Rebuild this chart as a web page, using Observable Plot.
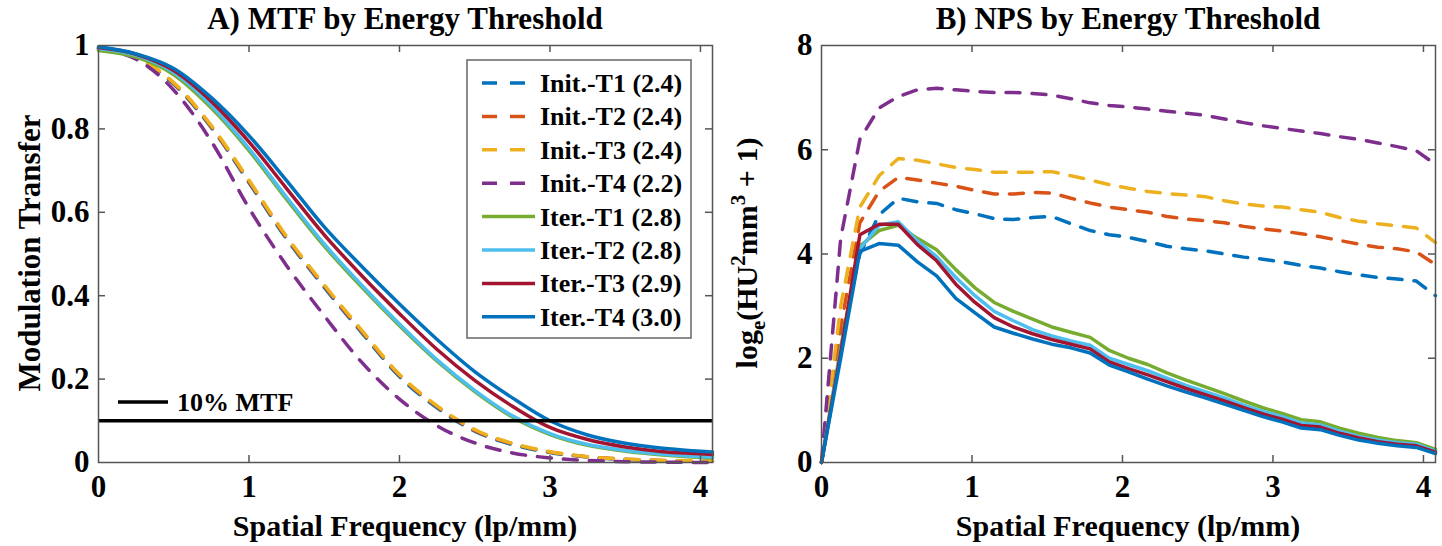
<!DOCTYPE html>
<html><head><meta charset="utf-8">
<script src="https://cdn.jsdelivr.net/npm/d3@7"></script>
<script src="https://cdn.jsdelivr.net/npm/@observablehq/plot@0.6"></script>
<style>
body{margin:0;background:#fff;}
#wrap{display:flex;width:1442px;height:546px;overflow:hidden;}
svg{display:block}
svg text{font-family:"Liberation Serif","Tinos","Times New Roman","DejaVu Serif",serif !important;font-weight:bold;}
</style></head><body><div id="wrap"></div>
<script>
// ---------- data ----------
const seriesNames = ["Init.-T1 (2.4)","Init.-T2 (2.4)","Init.-T3 (2.4)","Init.-T4 (2.2)",
                     "Iter.-T1 (2.8)","Iter.-T2 (2.8)","Iter.-T3 (2.9)","Iter.-T4 (3.0)"];
const xTicks = [0,1,2,3,4];
const mtfYTicks = [0,0.2,0.4,0.6,0.8,1];
const npsYTicks = [0,2,4,6,8];
const mtfThreshold = [0.1];
const mtfThresholdLabel = "10% MTF";
const titles = ["A) MTF by Energy Threshold","B) NPS by Energy Threshold"];
const xLabel = "Spatial Frequency (lp/mm)";
const mtfYLabel = "Modulation Transfer";

const mtfFreq = [0,0.25,0.5,0.75,1,1.25,1.5,1.75,2,2.25,2.5,2.75,3,3.25,3.5,3.75,4,4.08];
const mtfInitT1 = [0.992,0.970,0.907,0.803,0.671,0.536,0.420,0.311,0.206,0.131,0.075,0.043,0.024,0.013,0.007,0.004,0.003,0.003];
const mtfInitT2 = [0.993,0.971,0.909,0.805,0.674,0.539,0.423,0.314,0.209,0.134,0.077,0.045,0.025,0.014,0.008,0.005,0.003,0.003];
const mtfInitT3 = [0.993,0.972,0.911,0.808,0.677,0.542,0.426,0.317,0.211,0.136,0.079,0.046,0.026,0.014,0.008,0.005,0.004,0.003];
const mtfInitT4 = [0.990,0.967,0.893,0.770,0.610,0.472,0.352,0.240,0.152,0.088,0.047,0.023,0.011,0.005,0.002,0.001,0.000,0.000];
const mtfIterT1 = [0.988,0.972,0.930,0.850,0.748,0.631,0.519,0.420,0.328,0.243,0.170,0.109,0.067,0.041,0.027,0.018,0.012,0.011];
const mtfIterT2 = [0.993,0.977,0.935,0.856,0.753,0.636,0.524,0.425,0.332,0.246,0.173,0.112,0.069,0.043,0.029,0.020,0.014,0.013];
const mtfIterT3 = [0.995,0.979,0.940,0.866,0.769,0.657,0.546,0.448,0.357,0.271,0.197,0.135,0.084,0.055,0.037,0.026,0.021,0.019];
const mtfIterT4 = [0.997,0.980,0.945,0.875,0.784,0.676,0.565,0.470,0.380,0.295,0.218,0.155,0.100,0.066,0.046,0.034,0.027,0.025];

const npsFreq = [0,0.1275,0.255,0.3825,0.51,0.6375,0.765,0.8925,1.02,1.1475,1.275,1.4025,1.53,1.6575,1.785,1.9125,2.04,2.1675,2.295,2.4225,2.55,2.6775,2.805,2.9325,3.06,3.1875,3.315,3.4425,3.57,3.6975,3.825,3.9525,4.08];
const npsInitT1 = [0,2.3,4.0,4.75,5.07,5.0,4.97,4.85,4.77,4.68,4.66,4.7,4.72,4.58,4.45,4.37,4.32,4.24,4.15,4.1,4.06,4.0,3.94,3.9,3.85,3.78,3.73,3.66,3.6,3.55,3.52,3.48,3.2];
const npsInitT2 = [0,2.6,4.6,5.2,5.47,5.42,5.36,5.3,5.22,5.15,5.15,5.18,5.17,5.07,4.98,4.9,4.85,4.8,4.72,4.67,4.64,4.6,4.53,4.48,4.44,4.39,4.33,4.26,4.19,4.13,4.1,4.04,3.8];
const npsInitT3 = [0,3.0,4.9,5.5,5.83,5.8,5.73,5.66,5.62,5.57,5.57,5.57,5.58,5.5,5.42,5.33,5.26,5.2,5.16,5.13,5.1,5.02,4.96,4.92,4.9,4.85,4.8,4.7,4.63,4.58,4.54,4.5,4.22];
const npsInitT4 = [0,4.3,6.2,6.8,7.02,7.15,7.18,7.15,7.12,7.1,7.1,7.08,7.05,6.98,6.9,6.85,6.82,6.78,6.74,6.7,6.66,6.59,6.52,6.46,6.41,6.36,6.31,6.25,6.2,6.13,6.06,5.98,5.72];
const npsIterT1 = [0,2.2,4.15,4.45,4.55,4.3,4.08,3.7,3.35,3.07,2.9,2.75,2.6,2.5,2.4,2.15,2.0,1.88,1.72,1.58,1.45,1.32,1.18,1.05,0.94,0.82,0.78,0.66,0.56,0.48,0.42,0.38,0.25];
const npsIterT2 = [0,2.15,4.1,4.55,4.62,4.25,3.95,3.55,3.2,2.9,2.72,2.55,2.43,2.33,2.25,2.0,1.88,1.76,1.62,1.48,1.36,1.24,1.1,0.98,0.88,0.76,0.72,0.6,0.5,0.43,0.38,0.35,0.22];
const npsIterT3 = [0,2.1,4.37,4.57,4.57,4.18,3.87,3.42,3.07,2.78,2.6,2.47,2.36,2.27,2.18,1.93,1.8,1.68,1.55,1.42,1.3,1.18,1.05,0.93,0.83,0.71,0.68,0.56,0.47,0.4,0.35,0.32,0.2];
const npsIterT4 = [0,2.0,4.05,4.2,4.17,3.85,3.58,3.15,2.87,2.6,2.48,2.37,2.27,2.2,2.1,1.87,1.74,1.6,1.47,1.35,1.24,1.12,1.0,0.88,0.78,0.66,0.63,0.52,0.43,0.37,0.32,0.29,0.17];

const mtfSeries = [mtfInitT1,mtfInitT2,mtfInitT3,mtfInitT4,mtfIterT1,mtfIterT2,mtfIterT3,mtfIterT4];
const npsSeries = [npsInitT1,npsInitT2,npsInitT3,npsInitT4,npsIterT1,npsIterT2,npsIterT3,npsIterT4];

// ---------- styles ----------
const seriesColors = ["#0072BD","#D95319","#EDB120","#7E2F8E","#77AC30","#4DBEEE","#A2142F","#0072BD"];
const seriesDashed = [true,true,true,true,false,false,false,false];
const FONT = "Liberation Serif, Tinos, Times New Roman, DejaVu Serif, serif";
const FRAME = "#555";
const W = 721, H = 546, MT = 45, MB = 84;
const DASH = "14,12";

function rowsOf(freq, series){
  return series.map((vals,i)=>vals.map((v,j)=>({f:freq[j], v, s:seriesNames[i]})));
}

function panel({freq, series, yDomain, yTicks, marginLeft, marginRight, curve, extra=[]}){
  const xDomain = [0, freq[freq.length-1]];
  const plotH = H - MT - MB, plotW = W - marginLeft - marginRight;
  const tY = (yDomain[1]-yDomain[0]) * 7/plotH;
  const tX = (xDomain[1]-xDomain[0]) * 7/plotW;
  const rows = rowsOf(freq, series);
  const innerX = xTicks.filter(d=>d>xDomain[0]);
  const innerY = yTicks.filter(d=>d>yDomain[0] && d<yDomain[1]);
  return Plot.plot({
    width: W, height: H, marginTop: MT, marginBottom: MB, marginLeft, marginRight,
    style: {fontFamily: FONT, fontWeight: "bold", background: "white", color: "black"},
    x: {domain: xDomain},
    y: {domain: yDomain},
    marks: [
      ...rows.map((r,i)=>Plot.line(r, {x:"f", y:"v", stroke: seriesColors[i], strokeWidth: 3.5,
          strokeDasharray: seriesDashed[i] ? DASH : null, curve})),
      ...extra,
      Plot.ruleX(innerX, {y1: yDomain[0], y2: yDomain[0]+tY, stroke: FRAME, strokeWidth: 1.5}),
      Plot.ruleX(innerX, {y1: yDomain[1], y2: yDomain[1]-tY, stroke: FRAME, strokeWidth: 1.5}),
      Plot.ruleY(innerY, {x1: xDomain[0], x2: xDomain[0]+tX, stroke: FRAME, strokeWidth: 1.5}),
      Plot.ruleY(innerY, {x1: xDomain[1], x2: xDomain[1]-tX, stroke: FRAME, strokeWidth: 1.5}),
      Plot.frame({stroke: FRAME, strokeWidth: 1.5}),
      Plot.axisX(xTicks, {tickSize: 0, tickPadding: 12, fontSize: 31, label: null, tickFormat: d=>String(d)}),
      Plot.axisY(yTicks, {tickSize: 0, tickPadding: 9, fontSize: 31, label: null, tickFormat: d=>String(d)})
    ]
  });
}

const left = panel({freq: mtfFreq, series: mtfSeries, yDomain: [0,1], yTicks: mtfYTicks,
  marginLeft: 98, marginRight: 9, curve: "monotone-x",
  extra: [Plot.ruleY(mtfThreshold, {stroke: "black", strokeWidth: 3.5})]});
const right = panel({freq: npsFreq, series: npsSeries, yDomain: [0,8], yTicks: npsYTicks,
  marginLeft: 100, marginRight: 7, curve: "linear"});

const wrap = document.getElementById("wrap");
wrap.appendChild(left);
wrap.appendChild(right);

function addText(svg, x, y, txt, size, opts={}){
  const t = d3.select(svg).append("text")
    .attr("x", x).attr("y", y)
    .attr("text-anchor", opts.anchor || "middle")
    .attr("font-family", FONT).attr("font-weight", "bold")
    .attr("font-size", size).attr("fill", "black");
  if (opts.rotate) t.attr("transform", `rotate(-90 ${x} ${y})`);
  if (txt != null) t.text(txt);
  return t;
}

// titles & axis labels
addText(left, (98 + W - 9)/2, 29, titles[0], 31);
addText(right, (100 + W - 7)/2, 29, titles[1], 31);
addText(left, (98 + W - 9)/2, 536, xLabel, 30);
addText(right, (100 + W - 7)/2, 536, xLabel, 30);
addText(left, 40, 253, mtfYLabel, 31, {rotate: true});

// NPS y label with sub/superscripts
{
  const t = addText(right, 36, 253, null, 30, {rotate: true});
  t.append("tspan").text("log");
  t.append("tspan").attr("dy", 8).attr("font-size", 21).text("e");
  t.append("tspan").attr("dy", -8).text("(HU");
  t.append("tspan").attr("dy", -12).attr("font-size", 21).text("2");
  t.append("tspan").attr("dy", 12).text("mm");
  t.append("tspan").attr("dy", -12).attr("font-size", 21).text("3");
  t.append("tspan").attr("dy", 12).text(" + 1)");
}

// 10% MTF annotation
{
  const g = d3.select(left).append("g");
  g.append("line").attr("x1", 118).attr("x2", 168).attr("y1", 402).attr("y2", 402)
    .attr("stroke", "black").attr("stroke-width", 3.5);
  addText(left, 177, 411, mtfThresholdLabel, 26, {anchor: "start"});
}

// legend
{
  const g = d3.select(left).append("g");
  const lx = 467, ly = 60, lw = 224, lh = 278;
  g.append("rect").attr("x", lx).attr("y", ly).attr("width", lw).attr("height", lh)
    .attr("fill", "white").attr("stroke", "#666").attr("stroke-width", 1.5);
  seriesNames.forEach((name, i) => {
    const cy = 83 + i * 33.4;
    g.append("line").attr("x1", 482).attr("x2", 535).attr("y1", cy).attr("y2", cy)
      .attr("stroke", seriesColors[i]).attr("stroke-width", 3.5)
      .attr("stroke-dasharray", seriesDashed[i] ? "15,13" : null);
    addText(left, 540, cy + 9, name, 26, {anchor: "start"});
  });
}
</script></body></html>
